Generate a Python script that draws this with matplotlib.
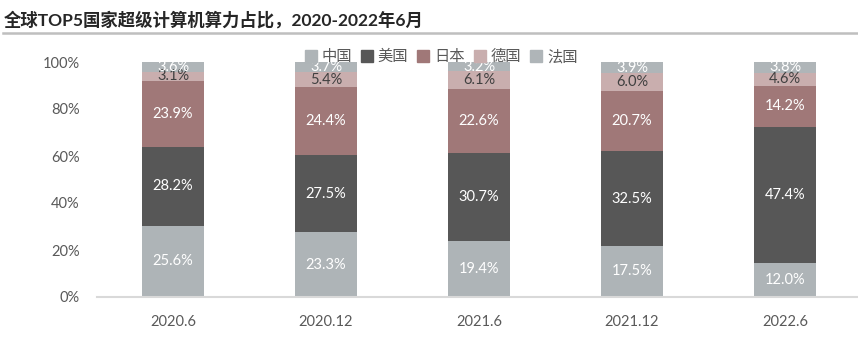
import numpy as np
import matplotlib.pyplot as plt
from matplotlib.lines import Line2D

plt.rcParams['font.family'] = ['Lato', 'Noto Sans CJK SC', 'DejaVu Sans']

periods = ['2020.6', '2020.12', '2021.6', '2021.12', '2022.6']
countries = ['中国', '美国', '日本', '德国', '法国']
china = [25.6, 23.3, 19.4, 17.5, 12.0]
usa = [28.2, 27.5, 30.7, 32.5, 47.4]
japan = [23.9, 24.4, 22.6, 20.7, 14.2]
germany = [3.1, 5.4, 6.1, 6.0, 4.6]
france = [3.6, 3.7, 3.2, 3.9, 3.8]

colors = ['#AEB4B7', '#575757', '#A07878', '#C9AEAE', '#AFB5B8']
text_colors = ['white', 'white', 'white', '#404040', 'white']

series = np.array([china, usa, japan, germany, france])
totals = series.sum(axis=0)
share = series / totals  # bars are stacked to 100%

fig = plt.figure(figsize=(8.58, 3.46), dpi=100)
ax = fig.add_axes([96.5/858, 49/346, (858-96.5)/858, 235/346])

x = np.arange(len(periods))
bottom = np.zeros(len(periods))
for i in range(len(countries)):
    ax.bar(x, share[i], 0.405, bottom=bottom, color=colors[i], label=countries[i])
    for j in range(len(periods)):
        ax.text(x[j], bottom[j] + share[i][j]/2, '%.1f%%' % series[i][j],
                ha='center', va='center', fontsize=10.5, color=text_colors[i])
    bottom = bottom + share[i]

ax.set_xlim(-0.5, 4.5 - 3.5/153)
ax.set_ylim(0, 1)
ax.set_yticks([0, 0.2, 0.4, 0.6, 0.8, 1.0])
ax.set_yticklabels(['0%', '20%', '40%', '60%', '80%', '100%'])
ax.set_xticks(x)
ax.set_xticklabels(periods)
ax.tick_params(axis='both', length=0, labelsize=10.5, colors='#595959')
ax.tick_params(axis='y', pad=12)
ax.tick_params(axis='x', pad=13)
for s in ['top', 'right', 'left']:
    ax.spines[s].set_visible(False)
ax.spines['bottom'].set_color('#D9D9D9')
ax.spines['bottom'].set_linewidth(1.5)

handles = [Line2D([], [], marker='s', linestyle='', markersize=8.5, color=c) for c in colors]
leg = fig.legend(handles, countries, loc='center', bbox_to_anchor=(441/858, 1 - 57/346),
                 ncol=5, frameon=False, fontsize=11, handlelength=0.8, handletextpad=0.3,
                 columnspacing=0.6, borderaxespad=0)
for t in leg.get_texts():
    t.set_color('#595959')

fig.text(4/858, 1 - 20/346, '全球TOP5国家超级计算机算力占比，2020-2022年6月',
         fontsize=12.5, fontweight='bold', color='#262626', va='center', ha='left')
fig.add_artist(Line2D([3/858, 1], [1 - 32.5/346, 1 - 32.5/346], color='#BFBFBF', linewidth=1.8))

fig.savefig('out.png', dpi=100)
